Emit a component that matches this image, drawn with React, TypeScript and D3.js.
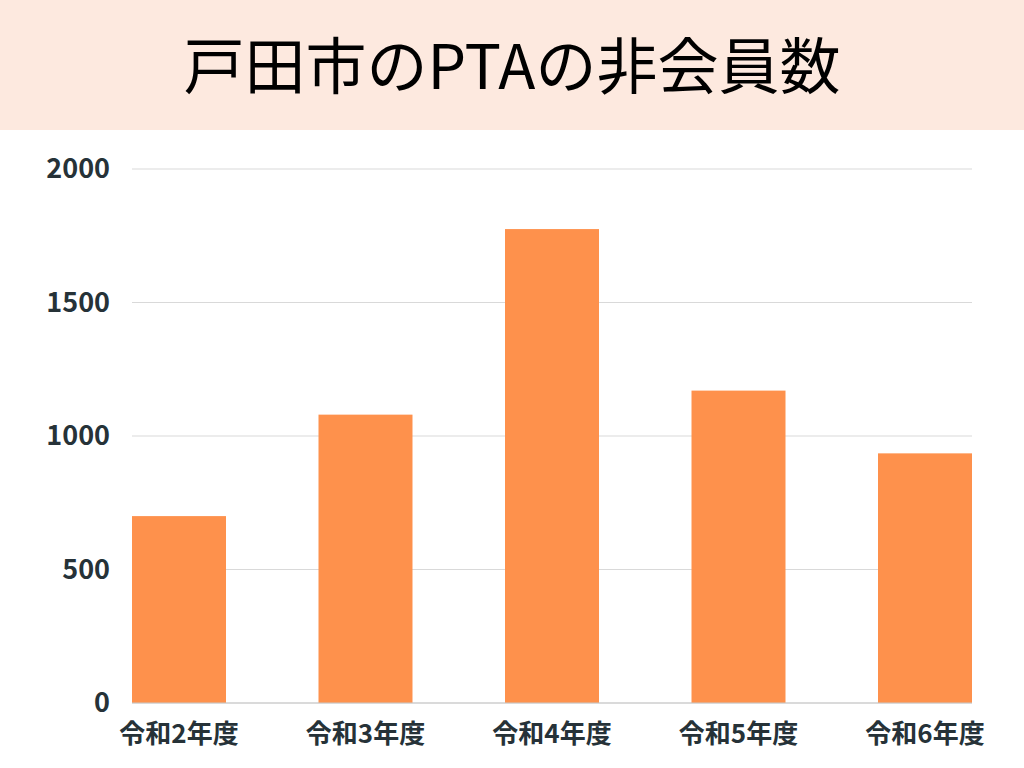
import React from 'react';
import * as d3 from 'd3';

const categories = ['令和2年度', '令和3年度', '令和4年度', '令和5年度', '令和6年度'];
const values = [700, 1080, 1775, 1170, 935];
const yTicks = [0, 500, 1000, 1500, 2000];
const title = '戸田市のPTAの非会員数';

export default function App() {
  const width = 1024;
  const height = 768;
  const left = 132;
  const right = 972;
  const top = 169;
  const bottom = 703;

  const x = d3.scaleBand<string>()
    .domain(categories)
    .range([left, right])
    .paddingInner(0.496)
    .paddingOuter(0);

  const y = d3.scaleLinear().domain([0, 2000]).range([bottom, top]);

  const font = '"Noto Sans CJK JP", "Noto Sans", sans-serif';

  return (
    <div style={{ position: 'fixed', left: 0, top: 0 }}>
      <svg width={width} height={height} style={{ display: 'block', background: '#ffffff' }}>
        {/* title banner */}
        <rect x={0} y={0} width={width} height={130} fill="#fde9df" />
        <text
          x={width / 2}
          y={89}
          textAnchor="middle"
          fontFamily={font}
          fontSize={61}
          fontWeight={400}
          fill="#000000"
        >
          {title}
        </text>

        {/* grid lines */}
        {yTicks.map(t => (
          <line
            key={t}
            x1={left}
            x2={right}
            y1={y(t)}
            y2={y(t)}
            stroke="#d9d9d9"
            strokeWidth={1}
          />
        ))}

        {/* bars */}
        {categories.map((c, i) => (
          <rect
            key={c}
            x={x(c)}
            y={y(values[i])}
            width={x.bandwidth()}
            height={y(0) - y(values[i])}
            fill="#fe914c"
          />
        ))}

        {/* baseline */}
        <line x1={left} x2={right} y1={y(0)} y2={y(0)} stroke="#c8c8c8" strokeWidth={1} />

        {/* y tick labels */}
        {yTicks.map(t => (
          <text
            key={t}
            x={110}
            y={y(t)}
            dy="0.35em"
            textAnchor="end"
            fontFamily={font}
            fontSize={27}
            fontWeight={700}
            fill="#263238"
          >
            {t}
          </text>
        ))}

        {/* x labels */}
        {categories.map(c => (
          <text
            key={c}
            x={(x(c) ?? 0) + x.bandwidth() / 2}
            y={743}
            textAnchor="middle"
            fontFamily={font}
            fontSize={26}
            fontWeight={700}
            fill="#263238"
          >
            {c}
          </text>
        ))}
      </svg>
    </div>
  );
}
